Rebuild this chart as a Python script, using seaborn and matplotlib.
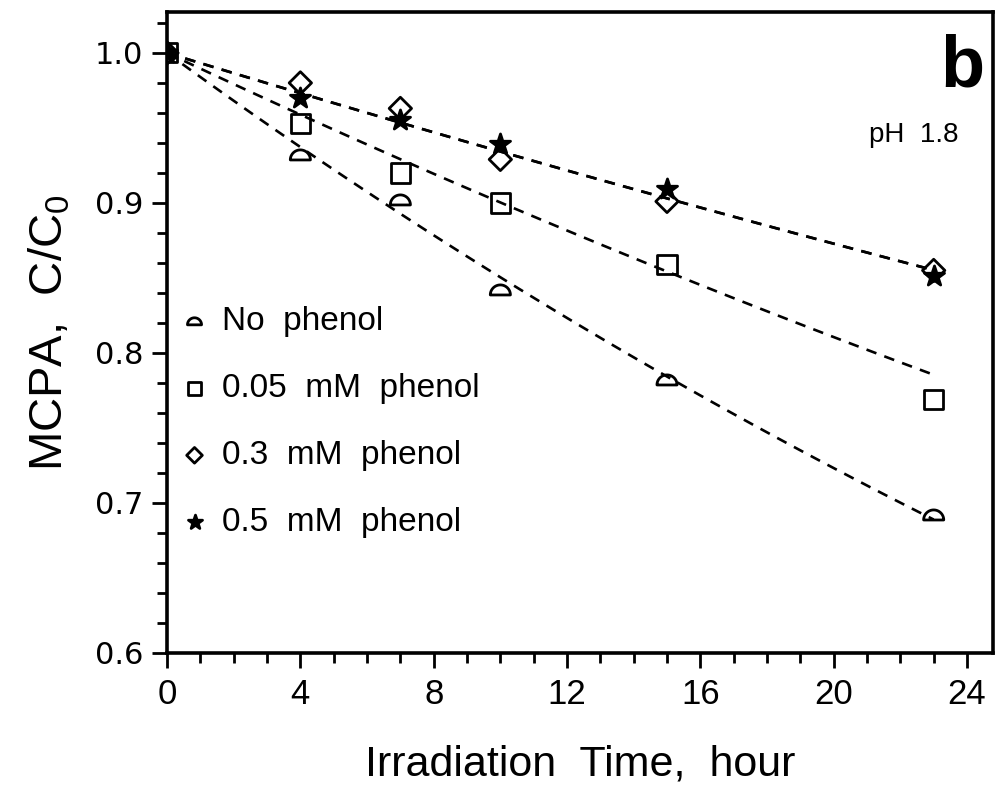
import numpy as np
import matplotlib
matplotlib.use("Agg")
import matplotlib.pyplot as plt
import matplotlib.path as mpath
import seaborn as sns
from matplotlib.ticker import MultipleLocator

# ==========================
# Data
# ==========================
time_h = [0, 4, 7, 10, 15, 23]
no_phenol = [1.0, 0.932, 0.902, 0.842, 0.782, 0.692]
phenol_005 = [1.0, 0.953, 0.920, 0.900, 0.859, 0.769]
phenol_03 = [1.0, 0.980, 0.963, 0.929, 0.901, 0.855]
phenol_05 = [1.0, 0.970, 0.955, 0.939, 0.909, 0.851]

series_labels = ["No  phenol", "0.05  mM  phenol", "0.3  mM  phenol", "0.5  mM  phenol"]
# pseudo-first-order rate constants of the dashed fit curves (1/h)
fit_k = [0.0162, 0.0105, 0.0068, 0.0068]
fit_end = 23

# half circle marker (flat side down)
theta = np.linspace(0, np.pi, 25)
verts = np.column_stack([np.cos(theta), np.sin(theta) - 0.5])
verts = np.vstack([verts, verts[:1]])
half_circle = mpath.Path(verts, closed=True)

markers = [half_circle, "s", "D", "*"]
sizes = [210, 190, 130, 230]
filled = [False, False, False, True]

sns.set_theme(style="ticks")
plt.rcParams["font.family"] = ["Liberation Sans", "DejaVu Sans"]
plt.rcParams["text.color"] = "black"
plt.rcParams["axes.labelcolor"] = "black"
plt.rcParams["xtick.color"] = "black"
plt.rcParams["ytick.color"] = "black"

fig = plt.figure(figsize=(9.96, 7.87), dpi=100)
ax = fig.add_axes([0.1677, 0.1703, 0.8293, 0.8145])

all_series = [no_phenol, phenol_005, phenol_03, phenol_05]

# fitted curves
t_fit = np.linspace(0, fit_end, 60)
for k in fit_k:
    sns.lineplot(x=t_fit, y=np.exp(-k * t_fit), ax=ax, color="black",
                 linewidth=1.9, linestyle=(0, (4, 3.2)), legend=False)

# measured points
for vals, lab, m, s, f in zip(all_series, series_labels, markers, sizes, filled):
    sns.scatterplot(x=time_h, y=vals, ax=ax, marker=m, s=s,
                    facecolor="black" if f else "none", edgecolor="black",
                    linewidth=2.0, label=lab, zorder=3)

ax.set_xlim(0, 24.78)
ax.set_ylim(0.6, 1.0273)
ax.xaxis.set_major_locator(MultipleLocator(4))
ax.xaxis.set_minor_locator(MultipleLocator(1))
ax.yaxis.set_minor_locator(MultipleLocator(0.02))
ax.set_yticks([0.6, 0.7, 0.8, 0.9, 1.0])
ax.set_yticklabels(["0.6", "0.7", "0.8", "0.9", "1.0"])

ax.tick_params(axis="both", which="major", direction="out", length=11, width=2)
ax.tick_params(axis="both", which="minor", direction="out", length=7, width=2)
ax.tick_params(axis="x", labelsize=25, pad=7)
ax.tick_params(axis="y", labelsize=22, pad=6)
for lbl in ax.get_yticklabels():
    lbl.set_family(["DejaVu Sans"])

for sp in ax.spines.values():
    sp.set_linewidth(2.6)
    sp.set_color("black")
    sp.set_visible(True)

ax.set_xlabel("Irradiation  Time,  hour", fontsize=31, labelpad=24)
ax.set_ylabel(r"MCPA,  C/C$\mathregular{_0}$", fontsize=34, labelpad=16)

ax.text(0.990, 0.913, "b", transform=ax.transAxes, fontsize=52,
        fontweight="bold", ha="right", va="center")
ax.text(0.958, 0.808, "pH  1.8", transform=ax.transAxes, fontsize=20,
        ha="right", va="center")

leg = ax.legend(loc="upper left", bbox_to_anchor=(0.002, 0.562), frameon=False,
                fontsize=24, markerscale=0.7, handlelength=0.75,
                handletextpad=0.45, labelspacing=1.08, borderaxespad=0)

fig.savefig("out.png", dpi=100)
plt.close(fig)
